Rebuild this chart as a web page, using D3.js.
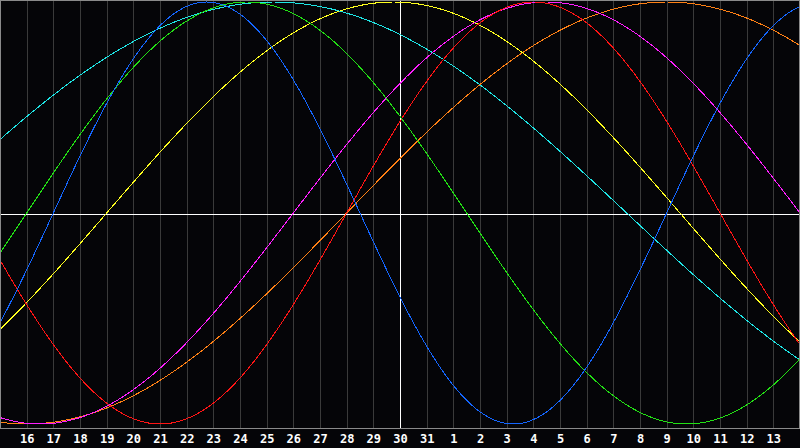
<!DOCTYPE html>
<html>
<head>
<meta charset="utf-8">
<script src="https://cdn.jsdelivr.net/npm/d3@7"></script>
<style>
  html, body { margin: 0; padding: 0; background: #050508; }
  svg { display: block; }
  .tick-label { font-family: "DejaVu Sans Mono", monospace; font-weight: bold; font-size: 12px; fill: #ffffff; }
</style>
</head>
<body>
<svg class="chart"></svg>
<script>
const canvas = {width: 800, height: 448};
const plot = {left: 0, top: 0, width: 800, height: 428};

// day labels under each grid line, offsets -14..14 around the centre day (30)
const dayOffsets = d3.range(-14, 15);
const dayLabels = ["16","17","18","19","20","21","22","23","24","25","26","27","28","29","30","31",
                   "1","2","3","4","5","6","7","8","9","10","11","12","13"];

// cycles: length in days and day-in-cycle at the centre day
const cycleNames  = ["physical", "emotional", "intellectual", "intuitive", "aesthetic", "awareness", "spiritual"];
const cyclePeriod = [23, 28, 33, 38, 43, 48, 53];
const cycleDayAtCentre = [13, 2, 14, 4, 11, 2, 18];
const cycleColors = ["#1466ff", "#ff1414", "#22e014", "#ff1eff", "#ffff1e", "#ff8014", "#1ee6e6"];
const drawOrder = [5, 4, 6, 3, 1, 2, 0];

const svg = d3.select(".chart")
    .attr("width", canvas.width)
    .attr("height", canvas.height);

svg.append("rect")
    .attr("width", canvas.width).attr("height", canvas.height)
    .attr("fill", "#050508");

const x = d3.scaleLinear().domain([-15, 15]).range([plot.left, plot.left + plot.width]);
const y = d3.scaleLinear().domain([-1, 1]).range([424, 2]);

// grid
svg.append("g").selectAll("line")
    .data(dayOffsets)
    .enter().append("line")
    .attr("x1", d => Math.round(x(d)) + 0.5)
    .attr("x2", d => Math.round(x(d)) + 0.5)
    .attr("y1", 0).attr("y2", plot.height)
    .attr("stroke", d => d === 0 ? "#ffffff" : "#3a3a3a")
    .attr("stroke-width", 1)
    .attr("shape-rendering", "crispEdges");

svg.append("line")
    .attr("x1", 0).attr("x2", plot.width)
    .attr("y1", Math.round(y(0)) + 1.5).attr("y2", Math.round(y(0)) + 1.5)
    .attr("stroke", "#ffffff")
    .attr("shape-rendering", "crispEdges");

// curves
const samples = d3.range(-15, 15.001, 0.05);
const line = d3.line()
    .x(d => x(d[0]))
    .y(d => y(d[1]));

svg.append("g").selectAll("path")
    .data(drawOrder)
    .enter().append("path")
    .attr("d", i => line(samples.map(t => [t, Math.sin(2 * Math.PI * (t + cycleDayAtCentre[i]) / cyclePeriod[i])])))
    .attr("fill", "none")
    .attr("stroke", i => cycleColors[i])
    .attr("stroke-width", 1)
    .attr("shape-rendering", "crispEdges");

// frame
svg.append("rect")
    .attr("x", 0.5).attr("y", 0.5)
    .attr("width", plot.width - 1).attr("height", plot.height)
    .attr("fill", "none")
    .attr("stroke", "#8a8a8a")
    .attr("shape-rendering", "crispEdges");

// labels
svg.append("g").selectAll("text")
    .data(dayOffsets)
    .enter().append("text")
    .attr("class", "tick-label")
    .attr("x", d => x(d) + 0.5)
    .attr("y", 443)
    .attr("text-anchor", "middle")
    .text((d, i) => dayLabels[i]);
</script>
</body>
</html>
